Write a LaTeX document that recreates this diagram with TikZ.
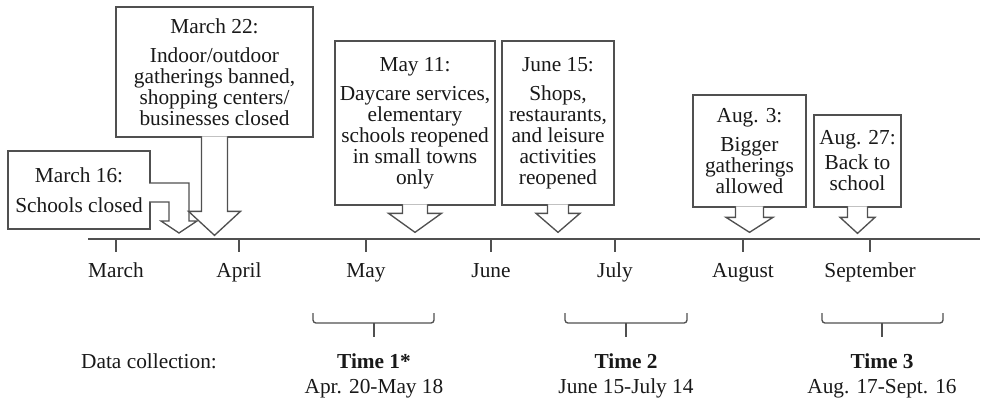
\documentclass[tikz,border=0pt]{standalone}
\usepackage{fontspec}
\setmainfont{Liberation Serif}
\usepackage{tikz}

\newcommand\pxu{0.75pt}
\definecolor{linegray}{RGB}{80,80,80}
\definecolor{textgray}{RGB}{25,25,25}

\tikzset{
  eventbox/.style={draw=linegray, line width=1pt, fill=white, align=center, inner sep=0pt},
  arrowline/.style={draw=linegray, line width=1pt, fill=white, line join=miter},
  label/.style={inner sep=0pt, anchor=base},
}

% arrow under a box: node, shaft half width, head half width, shaft length, head length
\newcommand\boxarrow[5]{%
  \draw[arrowline] ([xshift=-#2*\pxu,yshift=1pt]#1.south) -- ++(0,#4+1) -- ++(#2-#3,0)
    -- ++(#3,#5) -- ++(#3,-#5) -- ++(#2-#3,0) -- ++(0,-#4-1);}

\begin{document}
\begin{tikzpicture}[x=\pxu, y=-\pxu, font=\fontsize{16}{15.75}\selectfont, text=textgray]
  \useasboundingbox (0,0) rectangle (994,401);

  % timeline
  \coordinate (start) at (88,239);
  \coordinate (end) at (980,239);
  \draw[linegray, line width=1pt] (start) -- (end);
  \foreach \name/\x/\lbl in {mar/116/March, apr/239/April, may/366/May, jun/491/June,
                            jul/615/July, aug/743/August, sep/870/September} {
    \coordinate (t\name) at (\x,239);
    \draw[linegray, line width=1pt] (t\name) -- ++(0,13);
    \node[label] (l\name) at (\x,277) {\lbl};
  }

  % events
  \node[eventbox, minimum width=142*\pxu, minimum height=78*\pxu] (ev16) at (79,190)
    {March 16:\\[7pt]Schools closed};
  \draw[arrowline] (149,183) -- (189,183) -- (189,221) -- (197,221) -- (179,233)
    -- (161,221) -- (169,221) -- (169,202) -- (149,202);

  \node[eventbox, minimum width=197*\pxu, minimum height=130*\pxu] (ev22) at (214.5,72)
    {March 22:\\[6pt]Indoor/outdoor\\gatherings banned,\\shopping centers/\\businesses closed};
  \boxarrow{ev22}{13}{26}{74}{24}

  \node[eventbox, minimum width=160*\pxu, minimum height=164*\pxu] (evmay) at (415,123)
    {May 11:\\[6pt]Daycare services,\\elementary\\schools reopened\\in small towns\\only};
  \boxarrow{evmay}{12.5}{26.5}{8}{19}

  \node[eventbox, minimum width=112*\pxu, minimum height=164*\pxu] (evjun) at (558,123)
    {June 15:\\[6pt]Shops,\\restaurants,\\and leisure\\activities\\reopened};
  \boxarrow{evjun}{10.5}{22}{8}{19}

  \node[eventbox, minimum width=113*\pxu, minimum height=112*\pxu] (evaug) at (749.5,151)
    {Aug. 3:\\[6pt]Bigger\\gatherings\\allowed};
  \boxarrow{evaug}{14}{23.5}{10}{15}

  \node[eventbox, minimum width=87*\pxu, minimum height=92*\pxu] (evsch) at (857.5,161)
    {Aug. 27:\\[3pt]Back to\\school};
  \boxarrow{evsch}{10}{17.5}{10}{16}

  % data collection
  \node[label] (data) at (149,368) {Data collection:};
  \foreach \i/\a/\b/\m/\dates in {1*/313/434/374/Apr. 20-May 18,
                                 2/565/687/626/June 15-July 14,
                                 3/822/943/882/Aug. 17-Sept. 16} {
    \draw[linegray, line width=1pt, rounded corners=3*\pxu] (\a,313) -- (\a,323) -- (\b,323) -- (\b,313);
    \draw[linegray, line width=1pt] (\m,323) -- (\m,337);
    \node[label, font=\fontsize{16}{15.75}\selectfont\bfseries] (time\i) at (\m,368) {Time \i};
    \node[label] (dates\i) at (\m,393) {\dates};
  }
\end{tikzpicture}
\end{document}
